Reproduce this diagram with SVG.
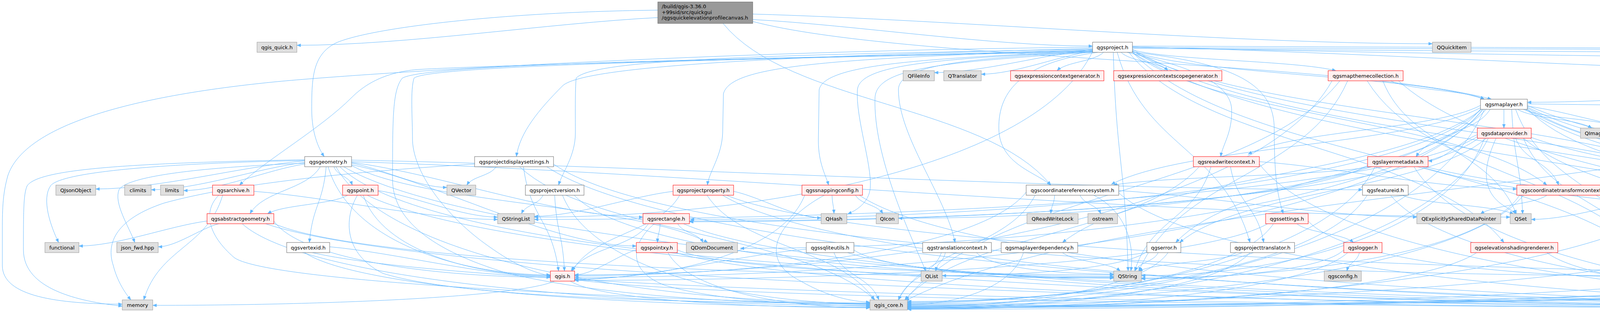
<svg xmlns="http://www.w3.org/2000/svg" width="6837" height="799" viewBox="0 0 6837 799">
<style>
.n rect{fill:#fff;stroke:#666}
.x rect{fill:#e0e0e0;stroke:#999}
.r rect{fill:#fff0f0;stroke:#f00}
.root rect{fill:#999;stroke:#666}
text{font-family:"DejaVu Sans","Liberation Sans",sans-serif;font-size:13px;text-anchor:middle;fill:#000}
.root text{text-anchor:start}
.c path{fill:none;stroke:#63b8ff;stroke-width:1;marker-end:url(#a)}
</style>
<defs>
<marker id="a" viewBox="0 0 10 8" refX="10" refY="4" markerWidth="10" markerHeight="8" markerUnits="userSpaceOnUse" orient="auto"><path d="M0,0L10,4L0,8z" fill="#63b8ff" stroke="#63b8ff" stroke-width="0.5"/></marker>
</defs>
<rect x="0" y="0" width="6837" height="799" fill="#fff"/>
<g id="connectors" class="c">
<path d="M1684,45c-277,14 -647,71 -924,71"/>
<path d="M1684,26C1300,30 950,70 860,110C800,140 798,200 798,280C798,340 815,380 830,401"/>
<path d="M1851,60c168,207 671,207 839,414"/>
<path d="M1927,50c261,14 609,68 870,68"/>
<path d="M1927,36c522,15 1218,76 1740,76"/>
<path d="M1927,55c378,100 1513,100 1891,199"/>
<path d="M2797,127c-122,12 -284,59 -405,59"/>
<path d="M2797,131c-86,12 -200,59 -285,59"/>
<path d="M2825,134c-24,24 -95,24 -119,47"/>
<path d="M2870,134c24,24 96,24 120,47"/>
<path d="M2899,128c104,27 417,27 521,53"/>
<path d="M2899,132c180,61 721,61 901,122"/>
<path d="M2899,120c633,14 1478,72 2111,72"/>
<path d="M2885,134C3000,160 3150,200 3153,280C3155,340 3130,370 3125,401"/>
<path d="M2810,134C2620,160 2555,230 2557,330C2559,420 2650,440 2690,474"/>
<path d="M2899,134c212,170 849,170 1061,340"/>
<path d="M2899,130c300,172 1201,172 1501,344"/>
<path d="M2885,132C3150,160 3262,210 3262,330C3262,450 3270,500 3285,547"/>
<path d="M2899,126c344,211 1377,211 1721,421"/>
<path d="M2860,134c68,244 272,244 340,487"/>
<path d="M2890,134c192,244 768,244 960,487"/>
<path d="M2899,130c396,246 1585,246 1981,491"/>
<path d="M2899,118C4800,125 6150,130 6230,150C6262,165 6264,220 6264,260L6264,490C6264,560 6100,575 6000,590C5960,600 5935,610 5925,621"/>
<path d="M2899,122C4500,128 6000,128 6120,160C6160,175 6163,230 6163,300L6163,460C6163,540 6140,590 6118,621"/>
<path d="M2899,124C4600,138 6200,140 6390,165C6460,180 6468,230 6468,290L6468,621"/>
<path d="M2899,134c272,280 1087,280 1359,560"/>
<path d="M2899,134c426,280 1703,280 2129,560"/>
<path d="M2899,120C4000,150 6000,160 6750,190C6820,200 6834,240 6834,280L6834,620C6834,690 6780,705 6700,712C6300,740 5600,780 5213,781"/>
<path d="M2797,124C2200,140 1500,160 1440,220C1380,280 1330,340 1322,401"/>
<path d="M2797,128C2000,150 1300,165 1070,178C980,185 930,220 900,250C820,330 680,410 613,474"/>
<path d="M2797,126C2000,140 1520,150 1475,200C1472,230 1473,300 1473,340C1473,400 1440,440 1430,474"/>
<path d="M2797,128C2100,150 1870,170 1852,240L1850,340C1848,400 1815,440 1811,474"/>
<path d="M2797,130C2400,150 2110,160 2097,230L2095,360C2095,420 2115,450 2121,474"/>
<path d="M2797,132c-143,297 -857,424 -1429,424"/>
<path d="M2797,132C2400,150 2200,165 2195,230C2190,300 2232,420 2228,480C2225,520 2190,540 2170,548"/>
<path d="M2797,133C2450,150 2300,170 2300,230C2300,350 2420,500 2445,621"/>
<path d="M2797,134C2400,160 2245,175 2240,250C2235,400 2330,600 2370,694"/>
<path d="M2797,132C2000,150 1100,165 1060,200C1050,230 1056,300 1056,360C1060,450 1150,560 1250,630C1320,680 1370,700 1409,706"/>
<path d="M2797,121C1800,130 900,190 700,210C300,250 60,330 20,450C6,500 6,540 6,600L6,680C6,760 150,778 313,779"/>
<path d="M2797,130C2000,150 1100,160 1030,200C1005,230 1005,300 1005,460C1005,560 1100,640 1300,700C1600,770 2000,778 2227,778"/>
<path d="M2850,134c8,280 30,280 38,560"/>
<path d="M3850,280c0,16 0,32 0,48"/>
<path d="M3885,280c38,24 152,24 190,48"/>
<path d="M3900,280c50,24 200,24 250,48"/>
<path d="M3910,272c101,12 235,61 335,61"/>
<path d="M3910,278c158,172 632,172 790,343"/>
<path d="M3910,276c262,173 1047,173 1309,345"/>
<path d="M3910,274c324,174 1296,174 1620,347"/>
<path d="M3905,280c301,207 1204,207 1505,414"/>
<path d="M3910,270c476,212 1904,212 2380,424"/>
<path d="M3908,280c352,207 1410,207 1762,414"/>
<path d="M3910,266C5000,280 6500,300 6600,450C6660,560 6650,620 6600,680C6500,740 5600,775 5213,784"/>
<path d="M3800,280c-148,353 -886,504 -1477,504"/>
<path d="M3880,280c75,207 300,207 375,414"/>
<path d="M3795,280c-232,301 -1394,430 -2324,430"/>
<path d="M3805,280c-159,171 -636,171 -795,341"/>
<path d="M3795,278c-215,172 -860,172 -1075,343"/>
<path d="M3815,280c-38,61 -152,61 -190,121"/>
<path d="M3790,270c-119,63 -476,63 -595,125"/>
<path d="M3792,280c-203,197 -1215,282 -2025,282"/>
<path d="M3790,276c-189,98 -756,98 -945,196"/>
<path d="M3797,280c-190,249 -1141,356 -1902,356"/>
<path d="M3790,279c-149,196 -894,280 -1490,280"/>
<path d="M3870,280c6,134 22,134 28,268"/>
<path d="M3880,354c22,60 88,60 110,120"/>
<path d="M3782,345c-38,13 -88,67 -126,67"/>
<path d="M3920,352c476,171 1904,171 2380,342"/>
<path d="M3900,354c70,170 280,170 350,340"/>
<path d="M3800,354c-88,246 -527,352 -878,352"/>
<path d="M3782,350c-241,148 -1448,212 -2414,212"/>
<path d="M3805,354c-157,134 -628,134 -785,267"/>
<path d="M3785,354c-202,150 -1212,214 -2020,214"/>
<path d="M3810,354c-149,304 -892,434 -1487,434"/>
<path d="M3900,354c248,207 992,207 1240,414"/>
<path d="M3830,354C3800,420 3790,480 3840,520C3860,535 3875,540 3880,548"/>
<path d="M3560,207c48,24 192,24 240,47"/>
<path d="M3500,207c150,244 598,244 748,487"/>
<path d="M3540,207c68,171 274,171 342,341"/>
<path d="M3430,207c-222,281 -890,281 -1112,561"/>
<path d="M3580,207c312,281 1248,281 1560,561"/>
<path d="M3410,207c-194,348 -1163,497 -1939,497"/>
<path d="M3450,207c-107,244 -428,244 -535,487"/>
<path d="M5010,200c-330,12 -770,62 -1100,62"/>
<path d="M5050,207c-546,282 -2186,282 -2732,563"/>
<path d="M5030,207c-146,244 -584,244 -730,487"/>
<path d="M5100,207c-10,244 -40,244 -50,487"/>
<path d="M5130,207c12,281 48,281 60,561"/>
<path d="M4380,500c-18,97 -70,97 -88,194"/>
<path d="M4299,492c-114,14 -265,70 -379,70"/>
<path d="M4320,500c-200,203 -1198,290 -1997,290"/>
<path d="M4500,500c128,134 512,134 640,268"/>
<path d="M3960,500c-34,24 -136,24 -170,48"/>
<path d="M3900,500c-158,195 -946,278 -1577,278"/>
<path d="M4122,490C5000,500 6450,560 6570,610C6590,630 6590,660 6560,690C6450,740 5600,780 5213,786"/>
<path d="M3890,500c-97,148 -581,212 -968,212"/>
<path d="M3150,427c17,97 68,97 85,194"/>
<path d="M3070,427c-151,171 -603,171 -754,341"/>
<path d="M3224,420c190,252 1141,360 1902,360"/>
<path d="M3100,427c-39,134 -156,134 -195,267"/>
<path d="M3224,414c198,14 461,70 659,70"/>
<path d="M3510,427c-132,24 -528,24 -660,47"/>
<path d="M3501,424c-174,99 -1042,142 -1736,142"/>
<path d="M3650,427c527,134 2108,134 2635,267"/>
<path d="M3640,427c404,134 1616,134 2020,267"/>
<path d="M3520,427c-120,244 -718,349 -1197,349"/>
<path d="M3620,427c151,254 904,363 1506,363"/>
<path d="M1270,427c-15,24 -60,24 -75,47"/>
<path d="M1417,420c282,200 1694,286 2823,286"/>
<path d="M1330,427c182,171 728,171 910,341"/>
<path d="M1400,427c373,249 2236,355 3726,355"/>
<path d="M1340,427c18,134 72,134 90,267"/>
<path d="M1215,420C900,440 600,470 420,520C300,560 270,620 290,680C300,720 320,750 335,768"/>
<path d="M780,412c-161,14 -375,72 -535,72"/>
<path d="M780,416c-118,14 -275,70 -393,70"/>
<path d="M780,420c-93,14 -217,68 -310,68"/>
<path d="M780,409C300,418 100,435 70,475C60,495 60,540 60,640C60,740 200,772 313,784"/>
<path d="M780,411C420,418 160,440 130,475C105,510 130,580 150,621"/>
<path d="M780,418C520,428 330,450 305,485C290,520 330,580 345,621"/>
<path d="M820,427c-36,60 -144,60 -180,120"/>
<path d="M855,427c9,24 38,24 47,47"/>
<path d="M900,418c73,12 171,62 244,62"/>
<path d="M835,427c-9,97 -34,97 -43,194"/>
<path d="M840,427c57,194 341,277 569,277"/>
<path d="M900,410c776,15 1812,76 2588,76"/>
<path d="M900,414c890,28 2076,142 2966,142"/>
<path d="M900,424c182,99 730,99 912,197"/>
<path d="M870,427c198,194 1189,277 1981,277"/>
<path d="M860,427c137,244 820,349 1367,349"/>
<path d="M880,427c425,250 2548,357 4246,357"/>
<path d="M900,422c219,42 510,208 729,208"/>
<path d="M900,416c224,28 522,140 746,140"/>
<path d="M530,566c-98,13 -230,64 -328,64"/>
<path d="M560,573c-47,12 -109,59 -155,59"/>
<path d="M701,566c71,101 425,144 708,144"/>
<path d="M620,573c161,146 964,209 1607,209"/>
<path d="M680,573c445,151 2668,215 4446,215"/>
<path d="M700,572c215,97 1291,138 2151,138"/>
<path d="M570,500c-40,134 -162,134 -202,268"/>
<path d="M560,500C520,540 530,600 600,660C700,730 1800,770 2227,780"/>
<path d="M650,490c187,14 437,72 624,72"/>
<path d="M890,500c-41,24 -164,24 -205,47"/>
<path d="M968,488c92,14 214,68 306,68"/>
<path d="M915,500C880,560 880,650 980,700C1200,770 1900,776 2227,777"/>
<path d="M940,500c419,203 2512,290 4186,290"/>
<path d="M930,500c48,144 287,206 479,206"/>
<path d="M844,632c170,15 396,76 565,76"/>
<path d="M780,647c145,97 868,139 1447,139"/>
<path d="M800,647c433,101 2596,144 4326,144"/>
<path d="M1390,500c-11,24 -44,24 -55,47"/>
<path d="M1470,500c138,146 829,208 1381,208"/>
<path d="M1440,500c79,195 472,278 787,278"/>
<path d="M1420,500c5,97 20,97 25,194"/>
<path d="M1878,490c67,14 157,68 224,68"/>
<path d="M1860,500c353,146 2119,208 3531,208"/>
<path d="M1723,490c-107,13 -249,64 -355,64"/>
<path d="M1810,500c86,134 342,134 428,268"/>
<path d="M1850,500c328,200 1966,286 3276,286"/>
<path d="M1740,500c-55,97 -220,97 -275,194"/>
<path d="M2130,500c1,24 4,24 5,47"/>
<path d="M2190,500c14,24 56,24 70,47"/>
<path d="M2110,500C2000,560 1930,660 2050,720C2120,760 2180,772 2227,774"/>
<path d="M2060,500c-59,150 -353,214 -589,214"/>
<path d="M2200,500c293,197 1756,282 2926,282"/>
<path d="M1690,573c-1,24 -6,24 -7,48"/>
<path d="M1735,573c13,24 52,24 65,48"/>
<path d="M1660,573c-40,61 -158,61 -198,121"/>
<path d="M1675,573C1620,620 1600,690 1700,730C1850,775 2100,780 2227,784"/>
<path d="M1750,573c338,151 2026,215 3376,215"/>
<path d="M1629,640c-47,13 -111,64 -158,64"/>
<path d="M1710,647c52,99 310,141 517,141"/>
<path d="M1730,647c340,102 2038,145 3396,145"/>
<path d="M1734,640c112,50 670,72 1117,72"/>
<path d="M2135,647c23,61 92,61 115,121"/>
<path d="M2186,640c67,50 399,72 665,72"/>
<path d="M2170,647c296,99 1774,142 2956,142"/>
<path d="M2064,638c-178,16 -415,78 -593,78"/>
<path d="M2700,500c-2,24 -8,24 -10,47"/>
<path d="M2765,500c11,24 42,24 53,47"/>
<path d="M2800,500C2880,540 2905,620 2895,694"/>
<path d="M2650,500c-70,134 -280,134 -350,268"/>
<path d="M2864,494c226,203 1357,290 2262,290"/>
<path d="M2627,492c-116,150 -694,214 -1156,214"/>
<path d="M2864,488c229,14 534,68 763,68"/>
<path d="M2420,647c-5,24 -20,24 -25,47"/>
<path d="M2500,647c35,39 211,55 351,55"/>
<path d="M2410,647c-22,61 -88,61 -110,121"/>
<path d="M2720,647c30,24 118,24 148,47"/>
<path d="M2620,647c-30,93 -178,133 -297,133"/>
<path d="M2965,647c-12,24 -48,24 -60,47"/>
<path d="M2936,644c-52,43 -314,62 -524,62"/>
<path d="M2990,647c-67,97 -400,139 -667,139"/>
<path d="M3180,647c-53,24 -212,24 -265,47"/>
<path d="M3200,647c-88,100 -526,143 -877,143"/>
<path d="M3320,573c29,24 116,24 145,48"/>
<path d="M3349,566c89,101 535,144 891,144"/>
<path d="M3260,573c-94,141 -562,201 -937,201"/>
<path d="M3245,573c-177,102 -1064,145 -1774,145"/>
<path d="M3480,647c-6,24 -26,24 -32,47"/>
<path d="M3450,647c-113,102 -676,145 -1127,145"/>
<path d="M3440,640c-52,52 -311,74 -518,74"/>
<path d="M3590,500c57,24 228,24 285,48"/>
<path d="M3560,500c157,195 940,278 1566,278"/>
<path d="M3500,500c-118,190 -706,272 -1177,272"/>
<path d="M3780,647c-146,100 -874,143 -1457,143"/>
<path d="M3960,647c117,90 700,129 1166,129"/>
<path d="M4665,573c1,24 2,24 3,48"/>
<path d="M4740,573c56,61 226,61 282,121"/>
<path d="M4590,573c-227,145 -1360,207 -2267,207"/>
<path d="M4720,573c84,98 336,98 420,195"/>
<path d="M4600,573c-60,61 -240,61 -300,121"/>
<path d="M4900,647c24,24 96,24 120,47"/>
<path d="M4880,647c54,61 216,61 270,121"/>
<path d="M4800,647c-248,99 -1486,141 -2477,141"/>
<path d="M4793,640c-48,49 -287,70 -479,70"/>
<path d="M5240,647c-10,61 -38,61 -48,121"/>
<path d="M5330,647c17,24 68,24 85,47"/>
<path d="M5370,647c55,24 220,24 275,47"/>
<path d="M5170,647c-285,102 -1708,145 -2847,145"/>
<path d="M5520,647c-14,24 -56,24 -70,47"/>
<path d="M5590,647c12,24 50,24 62,47"/>
<path d="M5480,647c-316,97 -1894,139 -3157,139"/>
<path d="M5797,640c-33,43 -196,62 -327,62"/>
<path d="M5820,647c-350,99 -2098,141 -3497,141"/>
<path d="M5840,647c-63,96 -376,137 -627,137"/>
<path d="M5930,647c72,24 288,24 360,47"/>
<path d="M5800,645c-149,48 -892,69 -1486,69"/>
<path d="M5974,642c-50,49 -302,70 -504,70"/>
<path d="M6100,647c40,24 160,24 200,47"/>
<path d="M5990,647c-367,96 -2200,137 -3667,137"/>
<path d="M6010,647c-80,99 -478,141 -797,141"/>
<path d="M5976,646c-29,43 -173,62 -288,62"/>
<path d="M6420,647c-15,24 -60,24 -75,47"/>
<path d="M6450,647c-413,95 -2476,135 -4127,135"/>
<path d="M6470,647c-126,102 -754,145 -1257,145"/>
<path d="M1420,720c-103,43 -617,62 -1029,62"/>
<path d="M1460,720c77,48 460,68 767,68"/>
<path d="M1471,716c366,52 2193,74 3655,74"/>
</g>
<g id="root" class="root"><rect x="1684" y="5" width="243" height="55"/><text x="1694" y="21">/build/qgis-3.36.0</text><text x="1694" y="35.5">+99sid/src/quickgui</text><text x="1694" y="50">/qgsquickelevationprofilecanvas.h</text></g>
<g id="n_qgis_quick" class="x"><rect x="658" y="108" width="102" height="26"/><text x="709" y="125.5">qgis_quick.h</text></g>
<g id="n_qgsproject" class="n"><rect x="2797" y="108" width="102" height="26"/><text x="2848" y="125.5">qgsproject.h</text></g>
<g id="n_QQuickItem" class="x"><rect x="3667" y="108" width="99" height="26"/><text x="3716.5" y="125.5">QQuickItem</text></g>
<g id="n_QFileInfo" class="x"><rect x="2312" y="181" width="80" height="26"/><text x="2352" y="198.5">QFileInfo</text></g>
<g id="n_QTranslator" class="x"><rect x="2416" y="181" width="96" height="26"/><text x="2464" y="198.5">QTranslator</text></g>
<g id="n_ecg" class="r"><rect x="2587" y="181" width="239" height="26"/><text x="2706.5" y="198.5">qgsexpressioncontextgenerator.h</text></g>
<g id="n_ecsg" class="r"><rect x="2851" y="181" width="277" height="26"/><text x="2989.5" y="198.5">qgsexpressioncontextscopegenerator.h</text></g>
<g id="n_mtc" class="r"><rect x="3400" y="181" width="192" height="26"/><text x="3496" y="198.5">qgsmapthemecollection.h</text></g>
<g id="n_mls" class="n"><rect x="5010" y="181" width="153" height="26"/><text x="5086.5" y="198.5">qgsmaplayerstore.h</text></g>
<g id="n_ml" class="n"><rect x="3790" y="254" width="120" height="26"/><text x="3850" y="271.5">qgsmaplayer.h</text></g>
<g id="n_dp" class="r"><rect x="3782" y="328" width="138" height="26"/><text x="3851" y="345.5">qgsdataprovider.h</text></g>
<g id="n_QImage" class="x"><rect x="4046" y="328" width="73" height="26"/><text x="4082.5" y="345.5">QImage</text></g>
<g id="n_QPainter" class="x"><rect x="4144" y="328" width="78" height="26"/><text x="4183" y="345.5">QPainter</text></g>
<g id="n_QUndoStack" class="x"><rect x="4245" y="328" width="104" height="26"/><text x="4297" y="345.5">QUndoStack</text></g>
<g id="n_geom" class="n"><rect x="780" y="401" width="120" height="26"/><text x="840" y="418.5">qgsgeometry.h</text></g>
<g id="n_pds" class="n"><rect x="1215" y="401" width="202" height="26"/><text x="1316" y="418.5">qgsprojectdisplaysettings.h</text></g>
<g id="n_rwc" class="r"><rect x="3055" y="401" width="169" height="26"/><text x="3139.5" y="418.5">qgsreadwritecontext.h</text></g>
<g id="n_lmd" class="r"><rect x="3501" y="401" width="155" height="26"/><text x="3578.5" y="418.5">qgslayermetadata.h</text></g>
<g id="n_QJsonObject" class="x"><rect x="143" y="474" width="102" height="26"/><text x="194" y="491.5">QJsonObject</text></g>
<g id="n_climits" class="x"><rect x="319" y="474" width="68" height="26"/><text x="353" y="491.5">climits</text></g>
<g id="n_limits" class="x"><rect x="411" y="474" width="59" height="26"/><text x="440.5" y="491.5">limits</text></g>
<g id="n_arc" class="r"><rect x="544" y="474" width="106" height="26"/><text x="597" y="491.5">qgsarchive.h</text></g>
<g id="n_pt" class="r"><rect x="877" y="474" width="91" height="26"/><text x="922.5" y="491.5">qgspoint.h</text></g>
<g id="n_QVector" class="x"><rect x="1144" y="474" width="74" height="26"/><text x="1181" y="491.5">QVector</text></g>
<g id="n_pv" class="n"><rect x="1345" y="474" width="150" height="26"/><text x="1420" y="491.5">qgsprojectversion.h</text></g>
<g id="n_pp" class="r"><rect x="1723" y="474" width="155" height="26"/><text x="1800.5" y="491.5">qgsprojectproperty.h</text></g>
<g id="n_snap" class="r"><rect x="2053" y="474" width="155" height="26"/><text x="2130.5" y="491.5">qgssnappingconfig.h</text></g>
<g id="n_crs" class="n"><rect x="2627" y="474" width="237" height="26"/><text x="2745.5" y="491.5">qgscoordinatereferencesystem.h</text></g>
<g id="n_fid" class="n"><rect x="3488" y="474" width="117" height="26"/><text x="3546.5" y="491.5">qgsfeatureid.h</text></g>
<g id="n_ctc" class="r"><rect x="3883" y="474" width="239" height="26"/><text x="4002.5" y="491.5">qgscoordinatetransformcontext.h</text></g>
<g id="n_vleb" class="n"><rect x="4299" y="474" width="231" height="26"/><text x="4414.5" y="491.5">qgsvectorlayereditbuffergroup.h</text></g>
<g id="n_ag" class="r"><rect x="530" y="547" width="171" height="26"/><text x="615.5" y="564.5">qgsabstractgeometry.h</text></g>
<g id="n_QStringList" class="x"><rect x="1274" y="547" width="94" height="26"/><text x="1321" y="564.5">QStringList</text></g>
<g id="n_rect" class="r"><rect x="1646" y="547" width="119" height="26"/><text x="1705.5" y="564.5">qgsrectangle.h</text></g>
<g id="n_QHash" class="x"><rect x="2102" y="547" width="66" height="26"/><text x="2135" y="564.5">QHash</text></g>
<g id="n_QIcon" class="x"><rect x="2243" y="547" width="57" height="26"/><text x="2271.5" y="564.5">QIcon</text></g>
<g id="n_QReadWriteLock" class="x"><rect x="2629" y="547" width="131" height="26"/><text x="2694.5" y="564.5">QReadWriteLock</text></g>
<g id="n_ostream" class="x"><rect x="2785" y="547" width="76" height="26"/><text x="2823" y="564.5">ostream</text></g>
<g id="n_set" class="r"><rect x="3240" y="547" width="109" height="26"/><text x="3294.5" y="564.5">qgssettings.h</text></g>
<g id="n_QESDP" class="x"><rect x="3627" y="547" width="215" height="26"/><text x="3734.5" y="564.5">QExplicitlySharedDataPointer</text></g>
<g id="n_QSet" class="x"><rect x="3866" y="547" width="54" height="26"/><text x="3893" y="564.5">QSet</text></g>
<g id="n_rm" class="r"><rect x="4583" y="547" width="165" height="26"/><text x="4665.5" y="564.5">qgsrelationmanager.h</text></g>
<g id="n_functional" class="x"><rect x="115" y="621" width="87" height="26"/><text x="158.5" y="638.5">functional</text></g>
<g id="n_json" class="x"><rect x="299" y="621" width="106" height="26"/><text x="352" y="638.5">json_fwd.hpp</text></g>
<g id="n_vid" class="n"><rect x="734" y="621" width="110" height="26"/><text x="789" y="638.5">qgsvertexid.h</text></g>
<g id="n_pxy" class="r"><rect x="1629" y="621" width="105" height="26"/><text x="1681.5" y="638.5">qgspointxy.h</text></g>
<g id="n_QDomDocument" class="x"><rect x="1757" y="621" width="131" height="26"/><text x="1822.5" y="638.5">QDomDocument</text></g>
<g id="n_sql" class="n"><rect x="2064" y="621" width="122" height="26"/><text x="2125" y="638.5">qgssqliteutils.h</text></g>
<g id="n_tc" class="n"><rect x="2362" y="621" width="176" height="26"/><text x="2450" y="638.5">qgstranslationcontext.h</text></g>
<g id="n_mld" class="n"><rect x="2563" y="621" width="196" height="26"/><text x="2661" y="638.5">qgsmaplayerdependency.h</text></g>
<g id="n_err" class="n"><rect x="2936" y="621" width="87" height="26"/><text x="2979.5" y="638.5">qgserror.h</text></g>
<g id="n_ptr" class="n"><rect x="3150" y="621" width="164" height="26"/><text x="3232" y="638.5">qgsprojecttranslator.h</text></g>
<g id="n_log" class="r"><rect x="3440" y="621" width="98" height="26"/><text x="3489" y="638.5">qgslogger.h</text></g>
<g id="n_esr" class="r"><rect x="3765" y="621" width="223" height="26"/><text x="3876.5" y="638.5">qgselevationshadingrenderer.h</text></g>
<g id="n_QDomNode" class="x"><rect x="4619" y="621" width="98" height="26"/><text x="4668" y="638.5">QDomNode</text></g>
<g id="n_cs" class="r"><rect x="4793" y="621" width="140" height="26"/><text x="4863" y="638.5">qgscolorscheme.h</text></g>
<g id="n_mlsp" class="r"><rect x="5160" y="621" width="226" height="26"/><text x="5273" y="638.5">qgsmaplayerserverproperties.h</text></g>
<g id="n_ocp" class="n"><rect x="5461" y="621" width="211" height="26"/><text x="5566.5" y="638.5">qgsobjectcustomproperties.h</text></g>
<g id="n_asn" class="r"><rect x="5797" y="621" width="153" height="26"/><text x="5873.5" y="638.5">qgsabstractsensor.h</text></g>
<g id="n_pc" class="r"><rect x="5974" y="621" width="175" height="26"/><text x="6061.5" y="638.5">qgspropertycollection.h</text></g>
<g id="n_pmd" class="r"><rect x="6377" y="621" width="167" height="26"/><text x="6460.5" y="638.5">qgsprojectmetadata.h</text></g>
<g id="n_qgis" class="r"><rect x="1409" y="694" width="62" height="26"/><text x="1440" y="711.5">qgis.h</text></g>
<g id="n_QList" class="x"><rect x="2358" y="694" width="54" height="26"/><text x="2385" y="711.5">QList</text></g>
<g id="n_QString" class="x"><rect x="2851" y="694" width="71" height="26"/><text x="2886.5" y="711.5">QString</text></g>
<g id="n_qgsconfig" class="x"><rect x="3390" y="694" width="95" height="26"/><text x="3437.5" y="711.5">qgsconfig.h</text></g>
<g id="n_QObject" class="x"><rect x="4240" y="694" width="74" height="26"/><text x="4277" y="711.5">QObject</text></g>
<g id="n_QPair" class="x"><rect x="5008" y="694" width="56" height="26"/><text x="5036" y="711.5">QPair</text></g>
<g id="n_QVariant" class="x"><rect x="5391" y="694" width="79" height="26"/><text x="5430.5" y="711.5">QVariant</text></g>
<g id="n_QMap" class="x"><rect x="5628" y="694" width="60" height="26"/><text x="5658" y="711.5">QMap</text></g>
<g id="n_QDateTime" class="x"><rect x="6276" y="694" width="96" height="26"/><text x="6324" y="711.5">QDateTime</text></g>
<g id="n_memory" class="x"><rect x="313" y="768" width="78" height="26"/><text x="352" y="785.5">memory</text></g>
<g id="n_qgis_core" class="x"><rect x="2227" y="768" width="96" height="26"/><text x="2275" y="785.5">qgis_core.h</text></g>
<g id="n_qgis_sip" class="n"><rect x="5126" y="768" width="87" height="26"/><text x="5169.5" y="785.5">qgis_sip.h</text></g>
</svg>
